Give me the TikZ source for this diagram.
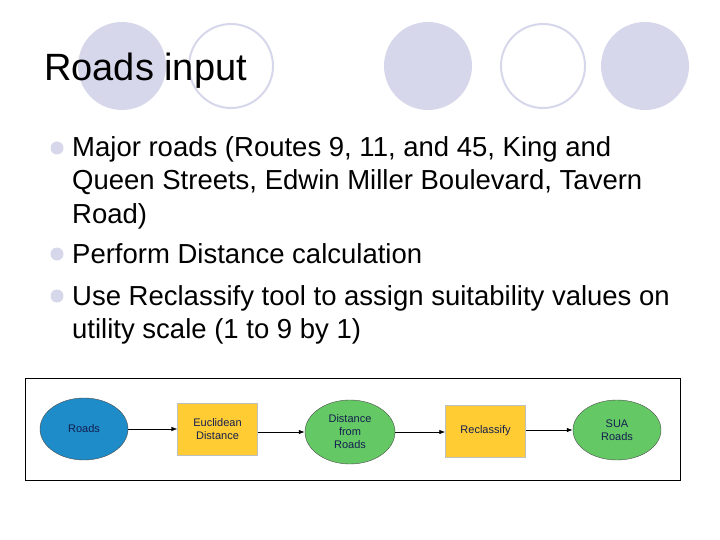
\documentclass[tikz,border=0pt]{standalone}
\usepackage{fontspec}
\setmainfont{Liberation Sans}
\usetikzlibrary{shapes.geometric,arrows.meta}
\definecolor{lav}{RGB}{215,215,235}
\definecolor{tool}{RGB}{255,204,51}
\definecolor{blu}{RGB}{30,140,200}
\definecolor{grn}{RGB}{100,200,100}
\definecolor{navy}{RGB}{20,30,80}
\begin{document}
\begin{tikzpicture}[x=1pt,y=-1pt,
  deco/.style={ellipse,minimum width=88pt,minimum height=88pt,inner sep=0},
  body/.style={anchor=base west,font=\fontsize{27.5}{30}\selectfont,inner sep=0},
  bul/.style={circle,fill=lav,minimum size=13pt,inner sep=0},
  el/.style={ellipse,draw=gray!60!black,thin,minimum width=88pt,minimum height=62pt,inner sep=0,align=center,text=navy,font=\fontsize{11}{13}\selectfont},
  bx/.style={rectangle,draw=gray!50,thin,fill=tool,minimum width=80pt,minimum height=52pt,inner sep=0,align=center,text=navy,font=\fontsize{11}{13}\selectfont},
  ar/.style={-{Latex[length=6pt]},thick}]
\useasboundingbox (0,0) rectangle (720,540);
\node[deco,fill=lav] (c1) at (122,66) {};
\node[deco,draw=lav,line width=2pt,minimum width=84pt,minimum height=84pt] (c2) at (231,66) {};
\node[deco,fill=lav] (c3) at (428,66) {};
\node[deco,draw=lav,line width=2pt,minimum width=84pt,minimum height=84pt] (c4) at (543,66) {};
\node[deco,fill=lav] (c5) at (645,66) {};
\node[anchor=base west,inner sep=0,font=\fontsize{38}{40}\selectfont] (title) at (44,81) {Roads input};
\node[bul] (b1) at (57,148) {};
\node[bul] (b2) at (57,254) {};
\node[bul] (b3) at (57,296) {};
\node[body] (t1) at (72,157) {Major roads (Routes 9, 11, and 45, King and};
\node[body] (t2) at (72,190) {Queen Streets, Edwin Miller Boulevard, Tavern};
\node[body] (t3) at (72,223) {Road)};
\node[body] (t4) at (72,263) {Perform Distance calculation};
\node[body] (t5) at (72,305) {Use Reclassify tool to assign suitability values on};
\node[body] (t6) at (72,338) {utility scale (1 to 9 by 1)};
\node[draw,thin,minimum width=655pt,minimum height=102pt,inner sep=0] (frame) at (352.5,429) {};
\node[el,fill=blu] (roads) at (84,429) {Roads};
\node[bx] (euc) at (217.5,429) {Euclidean\\Distance};
\node[el,fill=grn,minimum width=90pt,minimum height=64pt] (dist) at (350,432) {Distance\\from\\Roads};
\node[bx] (rec) at (485.5,431) {Reclassify};
\node[el,fill=grn,minimum height=60pt] (sua) at (617,430) {SUA\\Roads};
\draw[ar,thin] (roads) -- (euc.west|-roads);
\draw[ar] (euc.east|-dist) -- (dist);
\draw[ar] (dist) -- (rec.west|-dist);
\draw[ar] (rec.east|-sua) -- (sua);
\end{tikzpicture}
\end{document}
